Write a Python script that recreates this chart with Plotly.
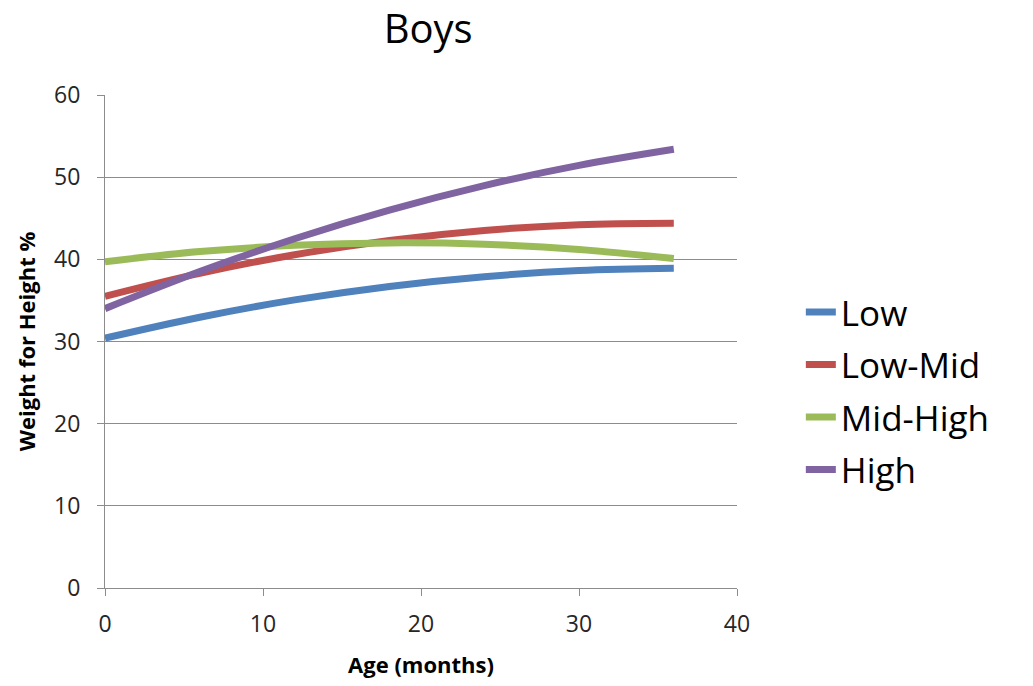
import plotly.graph_objects as go

# Age (months) at which each curve is sampled
age = [0, 6, 12, 18, 24, 30, 36]

# Weight-for-height % by group
low = [30.4, 32.95, 35.06, 36.7, 37.89, 38.63, 38.9]
low_mid = [35.5, 38.29, 40.56, 42.3, 43.52, 44.22, 44.4]
mid_high = [39.7, 40.94, 41.7, 42.0, 41.84, 41.2, 40.1]
high = [34.0, 38.51, 42.51, 46.0, 48.98, 51.44, 53.4]

series_names = ["Low", "Low-Mid", "Mid-High", "High"]
series_values = [low, low_mid, mid_high, high]
colors = ["#4F81BD", "#C0504D", "#9BBB59", "#8064A2"]

x_ticks = [0, 10, 20, 30, 40]
y_ticks = [0, 10, 20, 30, 40, 50, 60]

FONT = "'Open Sans', Lato, sans-serif"

fig = go.Figure()
for name, vals, col in zip(series_names, series_values, colors):
    fig.add_trace(go.Scatter(
        x=age, y=vals, name=name, mode="lines",
        line=dict(color=col, width=7, shape="spline", smoothing=1.0),
        legendgroup=name,
    ))

axis_grey = "#8C8C8C"

fig.update_layout(
    width=1033, height=686,
    margin=dict(l=105, r=296, t=95, b=96),
    paper_bgcolor="white", plot_bgcolor="white",
    font=dict(family=FONT, color="#000000"),
    title=dict(text="Boys", x=0.4145, xanchor="center",
               y=0.958, yanchor="middle", font=dict(size=40, family=FONT, color="#000000")),
    showlegend=True,
    legend=dict(x=1.101, xanchor="left", y=0.4, yanchor="middle",
                font=dict(size=35, family=FONT, color="#000000"),
                tracegroupgap=4, bgcolor="rgba(0,0,0,0)"),
    xaxis=dict(range=[0, 40], tickvals=x_ticks, showgrid=False, zeroline=False,
               showline=True, linecolor=axis_grey, linewidth=1,
               ticks="outside", ticklen=7, tickcolor=axis_grey,
               ticklabelstandoff=8,
               tickfont=dict(size=23, family=FONT, color="#262626"),
               title=dict(text="<b>Age (months)</b>", standoff=20,
                          font=dict(size=22, family=FONT, color="#000000"))),
    yaxis=dict(range=[0, 60], tickvals=y_ticks, showgrid=True, gridcolor=axis_grey,
               gridwidth=1, zeroline=False,
               showline=True, linecolor=axis_grey, linewidth=1,
               ticks="outside", ticklen=7, tickcolor=axis_grey,
               ticklabelstandoff=12,
               tickfont=dict(size=23, family=FONT, color="#262626"),
               title=dict(text="<b>Weight for Height %</b>", standoff=12,
                          font=dict(size=22, family=FONT, color="#000000"))),
)

fig.write_html("out.html")
